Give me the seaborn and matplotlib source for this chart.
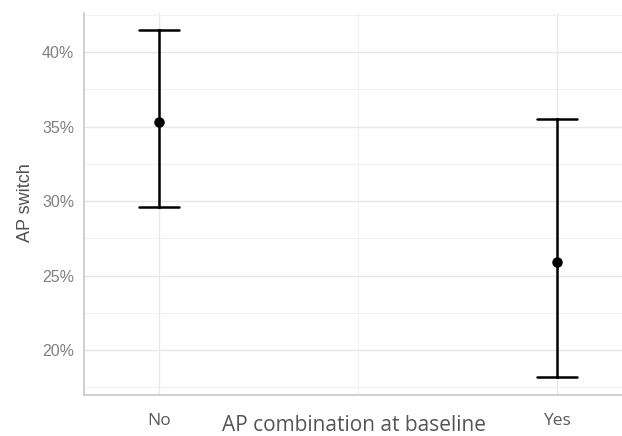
import matplotlib
matplotlib.use("Agg")
import matplotlib.pyplot as plt
import matplotlib.ticker as mticker
import seaborn as sns
import pandas as pd

# valeurs (en %)
groups = ["No", "Yes"]
estimate = [35.3, 25.9]
ci_low = [29.6, 18.2]
ci_high = [41.5, 35.5]
y_ticks = [20, 25, 30, 35, 40]

# format long : median(lo, est, hi) = est, et l'intervalle 100% = [lo, hi]
rows = []
for g, e, lo, hi in zip(groups, estimate, ci_low, ci_high):
    for v in (lo, e, hi):
        rows.append({"group": g, "value": v})
df = pd.DataFrame(rows)

sns.set_style("white")
fig = plt.figure(figsize=(6.22, 4.36), dpi=100)
ax = fig.add_axes([0.135, 0.094, 0.865, 0.876])

sns.pointplot(data=df, x="group", y="value", estimator="median",
              errorbar=("pi", 100), capsize=0.1, color="black",
              linestyle="none", markersize=5.5,
              err_kws={"linewidth": 1.8}, ax=ax)

ax.set_xlim(-0.188, 1.163)
ax.set_ylim(16.98, 42.62)
ax.set_yticks(y_ticks)
ax.yaxis.set_major_formatter(mticker.FuncFormatter(lambda v, p: f"{v:.0f}%"))
ax.yaxis.set_minor_locator(mticker.FixedLocator([17.5, 22.5, 27.5, 32.5, 37.5, 42.5]))
ax.xaxis.set_minor_locator(mticker.FixedLocator([0.5]))

# grille façon theme_minimal
ax.set_axisbelow(True)
ax.grid(True, which="major", color="#e8e8e8", linewidth=1.0)
ax.grid(True, which="minor", color="#f1f1f1", linewidth=0.8)

for side in ["top", "right"]:
    ax.spines[side].set_visible(False)
for side in ["left", "bottom"]:
    ax.spines[side].set_color("#c8c8c8")
    ax.spines[side].set_linewidth(1.2)

ax.tick_params(axis="both", which="both", length=0)
ax.tick_params(axis="y", pad=7, labelsize=11.5, labelcolor="#808080")
ax.tick_params(axis="x", pad=13, labelsize=12.5, labelcolor="#595959")
for lab in ax.get_yticklabels():
    lab.set_family("Liberation Sans")
for lab in ax.get_xticklabels():
    lab.set_family("Open Sans")

ax.set_ylabel("AP switch", fontsize=13, color="#505050", family="Liberation Sans",
              va="center", ha="center")
ax.yaxis.set_label_coords(25 / 622, 1 - 203 / 436, transform=fig.transFigure)
ax.set_xlabel("AP combination at baseline", fontsize=15, color="#555555", family="Open Sans",
              va="bottom")
ax.xaxis.set_label_coords(354.5 / 622, 0.5 / 436, transform=fig.transFigure)

fig.savefig("out.png", dpi=100)
